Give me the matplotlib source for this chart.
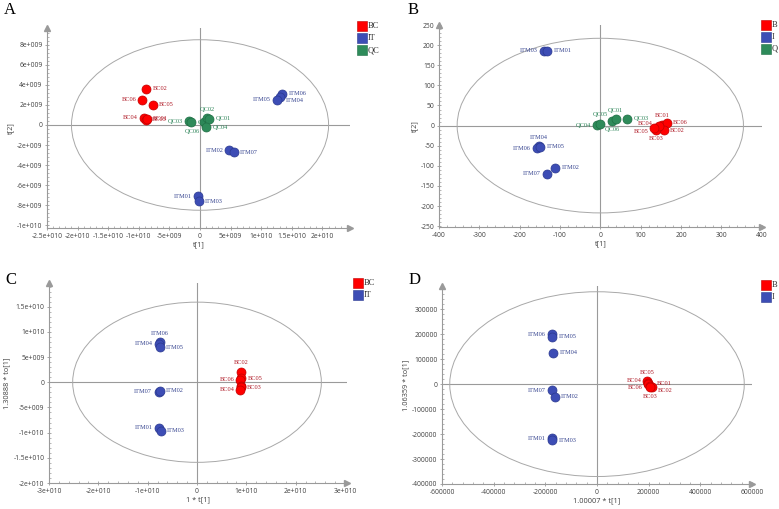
import matplotlib.pyplot as plt
from matplotlib.lines import Line2D
from matplotlib.patches import Ellipse
from matplotlib.ticker import AutoMinorLocator, FuncFormatter, MultipleLocator

FIG_W_PX = 779
FIG_H_PX = 509
DPI = 100

GROUP_COLORS = {"BC": "#ff0000", "IT": "#3d4db5", "QC": "#2e8b5a"}
EDGE_COLORS = {"BC": "#c00000", "IT": "#2b3a90", "QC": "#1f6e44"}
TEXT_COLORS = {"BC": "#b01c28", "IT": "#3a4892", "QC": "#2c8458"}
LINE_GRAY = "#9a9a9a"

# ---- panel A: PCA scores (BC / IT / QC) ----
A_BC_NAMES = ["BC02", "BC06", "BC05", "BC04", "BC03", "BC01"]
A_BC_X = [-8.8e9, -9.4e9, -7.7e9, -9.1e9, -8.9e9, -8.7e9]
A_BC_Y = [3.6e9, 2.5e9, 2.0e9, 0.7e9, 0.5e9, 0.6e9]
A_BC_SIDE = ["r", "l", "r", "l", "r", "r"]
A_IT_NAMES = ["ITM06", "ITM04", "ITM05", "ITM02", "ITM07", "ITM01", "ITM03"]
A_IT_X = [13.4e9, 13.0e9, 12.6e9, 4.8e9, 5.5e9, -0.3e9, -0.2e9]
A_IT_Y = [3.1e9, 2.8e9, 2.5e9, -2.5e9, -2.7e9, -7.1e9, -7.6e9]
A_IT_SIDE = ["r", "rb", "l", "l", "r", "l", "r"]
A_QC_NAMES = ["QC03", "QC05", "QC06", "QC02", "QC01", "QC04"]
A_QC_X = [-1.85e9, -1.47e9, 0.6e9, 1.15e9, 1.5e9, 1.0e9]
A_QC_Y = [0.37e9, 0.27e9, 0.27e9, 0.7e9, 0.6e9, -0.25e9]
A_QC_SIDE = ["l", "r", "lb", "a", "r", "r"]

# ---- panel B: PCA scores (log scaled) ----
B_BC_NAMES = ["BC01", "BC06", "BC02", "BC03", "BC04", "BC05"]
B_BC_X = [153, 165, 157, 139, 145, 134]
B_BC_Y = [2.5, 7, -12, -10, -2, -5]
B_BC_SIDE = ["a", "r", "r", "b", "la", "lb2"]
B_IT_NAMES = ["ITM03", "ITM01", "ITM04", "ITM06", "ITM05", "ITM02", "ITM07"]
B_IT_X = [-139, -132, -153, -156, -149, -112, -131]
B_IT_Y = [186, 186, -51, -56, -53, -105, -120]
B_IT_SIDE = ["l", "r", "a", "l", "r", "r", "l"]
B_QC_NAMES = ["QC04", "QC05", "QC06", "QC01", "QC03"]
B_QC_X = [-7, 0, 29, 38, 67]
B_QC_Y = [1, 5, 11, 16, 17]
B_QC_SIDE = ["l", "a", "b", "a", "r"]

# ---- panel C: OPLS-DA scores ----
C_BC_NAMES = ["BC02", "BC05", "BC06", "BC01", "BC03", "BC04"]
C_BC_X = [8.9e9, 9.0e9, 8.8e9, 8.9e9, 8.9e9, 8.8e9]
C_BC_Y = [2.1e9, 0.8e9, 0.5e9, -0.7e9, -1.0e9, -1.5e9]
C_BC_SIDE = ["a", "r", "l", None, "r", "l"]
C_IT_NAMES = ["ITM06", "ITM04", "ITM05", "ITM07", "ITM02", "ITM01", "ITM03"]
C_IT_X = [-7.5e9, -7.7e9, -7.5e9, -7.8e9, -7.5e9, -7.8e9, -7.4e9]
C_IT_Y = [8.0e9, 7.6e9, 6.9e9, -1.9e9, -1.7e9, -9.0e9, -9.6e9]
C_IT_SIDE = ["a", "l", "r", "l", "r", "l", "r"]

# ---- panel D: OPLS-DA scores (log scaled) ----
D_BC_NAMES = ["BC05", "BC04", "BC06", "BC01", "BC02", "BC03"]
D_BC_X = [193e3, 198e3, 199e3, 206e3, 212e3, 204e3]
D_BC_Y = [12e3, 3e3, -1e3, -7e3, -11e3, -13e3]
D_BC_SIDE = ["a", "la", "lb2", "ra", "rb", "b"]
D_IT_NAMES = ["ITM06", "ITM05", "ITM04", "ITM07", "ITM02", "ITM01", "ITM03"]
D_IT_X = [-176e3, -173e3, -169e3, -175e3, -164e3, -176e3, -173e3]
D_IT_Y = [200e3, 189e3, 125e3, -24e3, -51e3, -217e3, -224e3]
D_IT_SIDE = ["l", "r", "r", "l", "r", "l", "r"]

SIDE_OFFSETS = {
    "r": ((4.5, 0), "left", "center"),
    "l": ((-4.5, 0), "right", "center"),
    "a": ((0, 4.5), "center", "bottom"),
    "b": ((0, -4.5), "center", "top"),
    "rb": ((4.5, -2.5), "left", "center"),
    "ra": ((4.5, 2), "left", "center"),
    "la": ((-4.5, 2), "right", "center"),
    "lb": ((-3, -4.5), "right", "top"),
    "lb2": ((-4.5, -2.5), "right", "center"),
}


def sci_label(value, _pos):
    if value == 0 or abs(value) < 1:
        return "0"
    mantissa, exponent = f"{value:e}".split("e")
    mantissa = f"{float(mantissa):g}"
    sign = "+" if int(exponent) >= 0 else "-"
    return f"{mantissa}e{sign}{abs(int(exponent)):03d}"


def plain_label(value, _pos):
    return f"{value:.0f}"


def add_axes_px(fig, left, right, top, bottom):
    return fig.add_axes([
        left / FIG_W_PX,
        1 - bottom / FIG_H_PX,
        (right - left) / FIG_W_PX,
        (bottom - top) / FIG_H_PX,
    ])


def draw_group(ax, group, xs, ys, names, sides):
    ax.scatter(xs, ys, s=42, color=GROUP_COLORS[group],
               edgecolors=EDGE_COLORS[group], linewidths=0.5, zorder=3)
    for x, y, name, side in zip(xs, ys, names, sides):
        if side is None:
            continue
        offset, ha, va = SIDE_OFFSETS[side]
        ax.annotate(name, (x, y), xytext=offset, textcoords="offset points",
                    ha=ha, va=va, fontsize=4.6, family="Liberation Serif",
                    color=TEXT_COLORS[group], zorder=4)


def style_axes(ax, xlim, ylim, xmajor, ymajor, formatter, xlabel, ylabel,
               semi_x, semi_y):
    ax.set_xlim(*xlim)
    ax.set_ylim(*ylim)
    for side in ("top", "right"):
        ax.spines[side].set_visible(False)
    for side in ("left", "bottom"):
        ax.spines[side].set_color(LINE_GRAY)
        ax.spines[side].set_linewidth(0.8)
    ax.plot(1, ylim[0], ">", color=LINE_GRAY, markersize=4,
            transform=ax.get_yaxis_transform(), clip_on=False)
    ax.plot(xlim[0], 1, "^", color=LINE_GRAY, markersize=4,
            transform=ax.get_xaxis_transform(), clip_on=False)
    ax.axhline(0, color=LINE_GRAY, lw=0.8, zorder=1)
    ax.axvline(0, color=LINE_GRAY, lw=0.8, zorder=1)
    ax.add_patch(Ellipse((0, 0), 2 * semi_x, 2 * semi_y, fill=False,
                         edgecolor="#a8a8a8", lw=0.7, zorder=1))
    ax.xaxis.set_major_locator(MultipleLocator(xmajor))
    ax.yaxis.set_major_locator(MultipleLocator(ymajor))
    ax.xaxis.set_minor_locator(AutoMinorLocator(5))
    ax.yaxis.set_minor_locator(AutoMinorLocator(5))
    ax.xaxis.set_major_formatter(FuncFormatter(formatter))
    ax.yaxis.set_major_formatter(FuncFormatter(formatter))
    ax.tick_params(which="major", direction="inout", length=3.5, width=0.6,
                   color=LINE_GRAY, labelsize=4.9, labelcolor="#404040", pad=1.5)
    ax.tick_params(which="minor", direction="in", length=1.6, width=0.5,
                   color=LINE_GRAY)
    for label in ax.get_xticklabels() + ax.get_yticklabels():
        label.set_family("Open Sans")
    ax.set_xlabel(xlabel, fontsize=5.3, family="Open Sans", color="#404040",
                  labelpad=1)
    ax.set_ylabel(ylabel, fontsize=5.3, family="Open Sans", color="#404040",
                  labelpad=2)


def add_legend(fig, x_px, y_px, entries):
    for i, (group, text) in enumerate(entries):
        y = 1 - (y_px + i * 12) / FIG_H_PX
        fig.add_artist(Line2D([x_px / FIG_W_PX], [y], marker="s", markersize=7,
                              color=GROUP_COLORS[group],
                              markeredgecolor=EDGE_COLORS[group], mew=0.4, ls=""))
        fig.text((x_px + 6) / FIG_W_PX, y, text, fontsize=6,
                 family="Liberation Serif", color="#303030", va="center")


def main():
    fig = plt.figure(figsize=(FIG_W_PX / DPI, FIG_H_PX / DPI), dpi=DPI)

    ax_a = add_axes_px(fig, 47, 350, 28, 228)
    style_axes(ax_a, (-2.5e10, 2.45e10), (-1.027e10, 9.67e9), 5e9, 2e9,
               sci_label, "t[1]", "t[2]", 2.1e10, 8.5e9)
    draw_group(ax_a, "BC", A_BC_X, A_BC_Y, A_BC_NAMES, A_BC_SIDE)
    draw_group(ax_a, "QC", A_QC_X, A_QC_Y, A_QC_NAMES, A_QC_SIDE)
    draw_group(ax_a, "IT", A_IT_X, A_IT_Y, A_IT_NAMES, A_IT_SIDE)

    ax_b = add_axes_px(fig, 439, 762, 25, 227)
    style_axes(ax_b, (-400, 401), (-252, 250), 100, 50,
               plain_label, "t[1]", "t[2]", 355, 217)
    draw_group(ax_b, "BC", B_BC_X, B_BC_Y, B_BC_NAMES, B_BC_SIDE)
    draw_group(ax_b, "QC", B_QC_X, B_QC_Y, B_QC_NAMES, B_QC_SIDE)
    draw_group(ax_b, "IT", B_IT_X, B_IT_Y, B_IT_NAMES, B_IT_SIDE)

    ax_c = add_axes_px(fig, 49, 347, 283, 483)
    style_axes(ax_c, (-3e10, 3.04e10), (-2e10, 1.97e10), 1e10, 5e9,
               sci_label, "1 * t[1]", "1.30888 * to[1]", 2.52e10, 1.59e10)
    draw_group(ax_c, "BC", C_BC_X, C_BC_Y, C_BC_NAMES, C_BC_SIDE)
    draw_group(ax_c, "IT", C_IT_X, C_IT_Y, C_IT_NAMES, C_IT_SIDE)

    ax_d = add_axes_px(fig, 442, 752, 286, 484)
    style_axes(ax_d, (-600000, 600000), (-400000, 393000), 200000, 100000,
               plain_label, "1.00007 * t[1]", "1.06359 * to[1]", 570000, 370000)
    draw_group(ax_d, "BC", D_BC_X, D_BC_Y, D_BC_NAMES, D_BC_SIDE)
    draw_group(ax_d, "IT", D_IT_X, D_IT_Y, D_IT_NAMES, D_IT_SIDE)

    add_legend(fig, 362, 26, [("BC", "BC"), ("IT", "IT"), ("QC", "QC")])
    add_legend(fig, 766, 25, [("BC", "B"), ("IT", "I"), ("QC", "Q")])
    add_legend(fig, 358, 283, [("BC", "BC"), ("IT", "IT")])
    add_legend(fig, 766, 285, [("BC", "B"), ("IT", "I")])

    for letter, x_px, y_px in [("A", 10, 10), ("B", 413, 10), ("C", 11, 280), ("D", 415, 280)]:
        fig.text(x_px / FIG_W_PX, 1 - y_px / FIG_H_PX, letter, fontsize=12,
                 family="Liberation Serif", ha="center", va="center")

    fig.savefig("out.png", dpi=DPI)


if __name__ == "__main__":
    main()
